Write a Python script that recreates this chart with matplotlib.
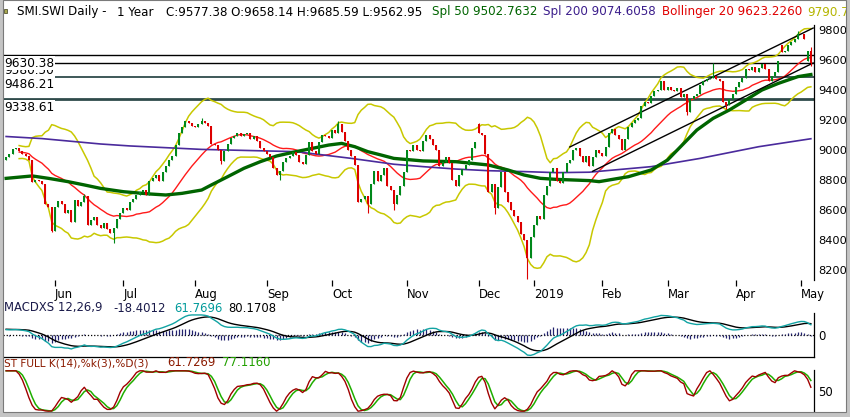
import matplotlib
matplotlib.use('Agg')
import matplotlib.pyplot as plt
from matplotlib.patches import Rectangle
import numpy as np
import pandas as pd

# daily closes, 9 May 2018 .. 6 May 2019 (trading-day index 0..247)
closes = [8950, 8975, 9005, 9010, 8990, 8975, 8960, 8935, 8785, 8800,
          8790, 8770, 8640, 8620, 8460, 8620, 8660, 8640, 8580, 8600,
          8520, 8665, 8625, 8650, 8690, 8500, 8530, 8555, 8500, 8480,
          8510, 8470, 8445, 8480, 8540, 8580, 8610, 8600, 8650, 8670,
          8700, 8720, 8735, 8700, 8790, 8810, 8830, 8790, 8850, 8890,
          8930, 8960, 9030, 9110, 9150, 9190, 9180, 9160, 9150, 9170,
          9195, 9180, 9160, 9040, 9035, 9000, 8925, 8990, 9040, 9080,
          9095, 9110, 9090, 9105, 9115, 9075, 9090, 9060, 9010, 8990,
          8970, 8955, 8880, 8830, 8860, 8920, 8945, 8960, 8985, 8965,
          8920, 8905, 8965, 9050, 8995, 8975, 9050, 9100, 9090, 9080,
          9130, 9110, 9170, 9120, 9060, 9000, 8960, 8900, 8650, 8670,
          8690, 8640, 8770, 8860, 8790, 8830, 8880, 8760, 8730, 8640,
          8700, 8760, 8850, 9000, 8990, 9030, 9000, 8995, 9060, 9100,
          9070, 9030, 9000, 8890, 8920, 8950, 8910, 8800, 8760, 8830,
          8870, 8900, 8930, 9010, 9050, 9115, 9100, 8970, 8720, 8770,
          8610, 8750, 8850, 8720, 8650, 8600, 8560, 8520, 8440, 8400,
          8280, 8420, 8500, 8560, 8540, 8700, 8760, 8850, 8880, 8790,
          8780, 8850, 8910, 8930, 9000, 9010, 8960, 8920, 8960, 8890,
          8950, 9000, 8980, 8960, 9020, 9110, 9140, 9100, 9070, 9000,
          9070, 9150, 9180, 9200, 9210, 9290, 9320, 9310, 9360, 9390,
          9400, 9460, 9400, 9420, 9400, 9390, 9410, 9350, 9370, 9250,
          9340, 9360, 9370, 9430, 9460, 9470, 9480, 9490, 9470, 9460,
          9320, 9300, 9340, 9370, 9420, 9450, 9480, 9540, 9530, 9550,
          9520, 9545, 9570, 9540, 9460, 9490, 9520, 9590, 9650, 9660,
          9700, 9720, 9740, 9770, 9775, 9740, 9658.14, 9577.38]

# opens follow the previous close except where a gap is visible
gap_opens = {0: 8930, 145: 9170, 238: 9700, 246: 9590}
# wicks that stand out beyond the bodies
wick_highs = {24: 8705, 60: 9215, 102: 9192, 145: 9180, 217: 9580,
              243: 9795, 247: 9685.59}
wick_lows = {14: 8450, 33: 8380, 66: 8905, 84: 8800, 111: 8580, 119: 8600,
             150: 8570, 160: 8140, 209: 9230, 221: 9270, 247: 9562.95}

# MACD state at the left edge
ema12_start = 8960
ema26_start = 8920
signal_start = 40

# first session of each month
month_days = [15, 36, 58, 80, 100, 123, 145, 162, 183, 203, 224, 244]
month_labels = ['Jun', 'Jul', 'Aug', 'Sep', 'Oct', 'Nov', 'Dec', '2019',
                'Feb', 'Mar', 'Apr', 'May']

# moving averages
sma50_days = [0, 8, 13, 19, 24, 29, 36, 44, 49, 54, 60, 63, 68, 73, 78, 83,
              89, 94, 99, 103, 107, 111, 115, 119, 128, 138, 148, 154, 159,
              164, 169, 179, 182, 191, 198, 203, 207, 212, 217, 222, 227,
              232, 237, 243, 247]
sma50_vals = [8811, 8827, 8811, 8789, 8767, 8744, 8722, 8707, 8700, 8711,
              8733, 8767, 8822, 8878, 8922, 8960, 8989, 9011, 9033, 9044,
              9022, 8989, 8967, 8944, 8927, 8922, 8900, 8867, 8833, 8811,
              8804, 8796, 8789, 8822, 8867, 8933, 9022, 9133, 9211, 9267,
              9333, 9400, 9444, 9489, 9503]
sma200_days = [0, 11, 29, 38, 60, 89, 106, 119, 128, 138, 148, 159, 169,
               179, 198, 213, 231, 247]
sma200_vals = [9090, 9076, 9040, 9027, 9004, 8989, 8944, 8905, 8889, 8873,
               8862, 8856, 8849, 8852, 8889, 8944, 9022, 9075]

levels = [9630.38, 9580.50, 9486.21, 9338.61]
level_labels = ['9630.38', '9580.50', '9486.21', '9338.61']

chan_up_days = [173, 247.7]
chan_up_vals = [9020, 9813]
chan_lo_days = [180, 247.7]
chan_lo_vals = [8858, 9580]

price_ticks = [8200, 8400, 8600, 8800, 9000, 9200, 9400, 9600, 9800]

# ---------------------------------------------------------------
c = np.array(closes, dtype=float)
n = len(c)
o = np.r_[c[0], c[:-1]]
for k, v in gap_opens.items():
    o[k] = v
hi = np.maximum(o, c)
lo = np.minimum(o, c)
for k, v in wick_highs.items():
    hi[k] = v
for k, v in wick_lows.items():
    lo[k] = v
x = np.arange(n)

s = pd.Series(c)
mid = s.rolling(20, min_periods=5).mean()
sd = s.rolling(20, min_periods=5).std(ddof=0)
bb_up = mid + 2 * sd
bb_lo = mid - 2 * sd


def ema(vals, span, start):
    a = 2.0 / (span + 1)
    out = []
    e = start
    for v in vals:
        e = e + a * (v - e)
        out.append(e)
    return np.array(out)


macd = ema(c, 12, ema12_start) - ema(c, 26, ema26_start)
signal = ema(macd, 9, signal_start)
hist = macd - signal

hh = pd.Series(hi).rolling(14, min_periods=1).max()
ll = pd.Series(lo).rolling(14, min_periods=1).min()
rawk = 100 * (s - ll) / (hh - ll)
slowk = rawk.rolling(3, min_periods=1).mean()
slowd = slowk.rolling(3, min_periods=1).mean()

W, H = 850, 417


def fx(px):
    return px / W


def fy(py):
    return 1 - py / H


fig = plt.figure(figsize=(8.5, 4.17), dpi=100)
fig.patch.set_facecolor('white')

xl = (-0.96, 247.96)

# main price panel
ax = fig.add_axes([fx(3), fy(280), fx(814) - fx(3), (280 - 25) / H])
ax.set_xlim(xl)
ax.set_ylim(8133.3, 9833.3)
for sp in ['left', 'top', 'bottom']:
    ax.spines[sp].set_visible(False)
ax.spines['right'].set_linewidth(0.9)
ax.yaxis.tick_right()
ax.set_yticks(price_ticks)
ax.set_yticklabels([str(t) for t in price_ticks], fontsize=8.2)
ax.tick_params(axis='y', length=0, pad=3)
ax.set_xticks(month_days)
ax.set_xticklabels(month_labels, fontsize=8.4, ha='left')
ax.tick_params(axis='x', length=4, width=0.9, direction='out', pad=1.5)

lev_cols = ['black', 'black', '#2f4b4b', '#2f4b4b']
lev_lw = [1.0, 1.0, 1.3, 2.0]
for v, col, lw in zip(levels, lev_cols, lev_lw):
    ax.axhline(v, color=col, lw=lw, zorder=1)
for v, lab, zo in zip(levels, level_labels, [6, 5, 5, 5]):
    ax.annotate(lab, xy=(0, v), xycoords=('axes fraction', 'data'),
                xytext=(1, -1), textcoords='offset points', va='top',
                ha='left', fontsize=8.7, zorder=zo,
                bbox=dict(boxstyle='square,pad=0.05', fc='white', ec='none'))

ax.plot(x, bb_up, color='#c8c800', lw=1.1, zorder=2)
ax.plot(x, bb_lo, color='#c8c800', lw=1.1, zorder=2)
ax.plot(x, mid, color='#ff1a1a', lw=1.0, zorder=2)
ax.plot(sma200_days, sma200_vals, color='#4a2a9c', lw=1.2, zorder=2)
ax.plot(sma50_days, sma50_vals, color='#006400', lw=2.4, zorder=2)
ax.plot(chan_up_days, chan_up_vals, color='black', lw=1.0, zorder=2)
ax.plot(chan_lo_days, chan_lo_vals, color='black', lw=1.0, zorder=2)

up = c >= o
cols = np.where(up, '#00881a', '#dd0000')
ax.vlines(x, lo, hi, colors=cols, lw=0.8, zorder=3)
ax.bar(x, np.maximum(np.abs(c - o), 6), bottom=np.minimum(o, c), width=0.62,
       color=cols, lw=0, zorder=3)

# MACD panel
ax2 = fig.add_axes([fx(3), fy(357), fx(814) - fx(3), (357 - 313) / H])
ax2.set_xlim(xl)
m = np.nanmax(np.abs(np.r_[macd, signal])) * 1.08
ax2.set_ylim(-m, m)
for sp in ['left', 'top']:
    ax2.spines[sp].set_visible(False)
ax2.spines['right'].set_linewidth(0.9)
ax2.spines['bottom'].set_linewidth(0.9)
ax2.set_xticks([])
ax2.yaxis.tick_right()
ax2.set_yticks([0])
ax2.set_yticklabels(['0'], fontsize=8.4)
ax2.tick_params(axis='y', length=0, pad=3)
ax2.axhline(0, color='black', lw=0.9, ls=(0, (1, 1.5)), zorder=1)
ax2.vlines(x, 0, hist, colors='#22226e', lw=0.9, zorder=2)
ax2.plot(x, signal, color='black', lw=1.0, zorder=3)
ax2.plot(x, macd, color='#12a3a3', lw=1.0, zorder=3)

# stochastic panel
ax3 = fig.add_axes([fx(3), fy(412), fx(814) - fx(3), (412 - 370) / H])
ax3.set_xlim(xl)
ax3.set_ylim(-2, 102)
for sp in ['left', 'top', 'bottom']:
    ax3.spines[sp].set_visible(False)
ax3.spines['right'].set_linewidth(0.9)
ax3.set_xticks([])
ax3.yaxis.tick_right()
ax3.set_yticks([50])
ax3.set_yticklabels(['50'], fontsize=8.4)
ax3.tick_params(axis='y', length=0, pad=3)
ax3.plot(x, slowd, color='#1fae00', lw=1.1)
ax3.plot(x, slowk, color='#a00000', lw=1.0)

# header texts
ty = fy(12)
fig.text(fx(17), ty, 'SMI.SWI Daily -', fontsize=8.6, va='center')
fig.text(fx(117), ty, '1 Year', fontsize=8.6, va='center')
fig.text(fx(166), ty, 'C:9577.38 O:9658.14 H:9685.59 L:9562.95',
         fontsize=8.6, va='center')
fig.text(fx(432), ty, 'Spl 50 9502.7632', fontsize=8.6, va='center',
         color='#006400')
fig.text(fx(543), ty, 'Spl 200 9074.6058', fontsize=8.6, va='center',
         color='#3c1e8c')
fig.text(fx(662), ty, 'Bollinger 20 9623.2260', fontsize=8.6, va='center',
         color='#e00000')
fig.text(fx(807), ty, '9790.7', fontsize=8.6, va='center', color='#b5b500')
fig.add_artist(Rectangle((fx(4), fy(13)), fx(3), 4 / H,
                         transform=fig.transFigure, fc='#a8a850',
                         ec='#555530', lw=0.6))

my = fy(308)
fig.text(fx(4), my, 'MACDXS 12,26,9', fontsize=8.4, va='center',
         color='#1a1a4a')
fig.text(fx(113), my, '-18.4012', fontsize=8.4, va='center', color='#1a1a4a')
fig.text(fx(174), my, '61.7696', fontsize=8.4, va='center', color='#009a9a')
fig.text(fx(228), my, '80.1708', fontsize=8.4, va='center', color='black')

sy = fy(363)
fig.text(fx(4), sy, 'ST FULL K(14),%k(3),%D(3)', fontsize=7.6, va='center',
         color='#8b1a00')
fig.text(fx(167), sy, '61.7269', fontsize=8.4, va='center', color='#8b1a00')
fig.text(fx(222), sy, '77.1160', fontsize=8.4, va='center', color='#22a000')

# window frame
frame = [(0, 0, 2.5, H), (0, 412, W, 5), (846, 0, 4, H), (0, 0, W, 1)]
for fx0, fy0, fw, fh in frame:
    fig.add_artist(Rectangle((fx(fx0), fy(fy0 + fh)), fw / W, fh / H,
                             transform=fig.transFigure, fc='#c4c4c4',
                             ec='none', zorder=20))
fig.add_artist(Rectangle((fx(2.5), fy(412)), fx(846) - fx(2.5), 412 / H,
                         transform=fig.transFigure, fc='none', ec='#7a7a7a',
                         lw=0.8, zorder=21))

fig.savefig('out.png', dpi=100)
